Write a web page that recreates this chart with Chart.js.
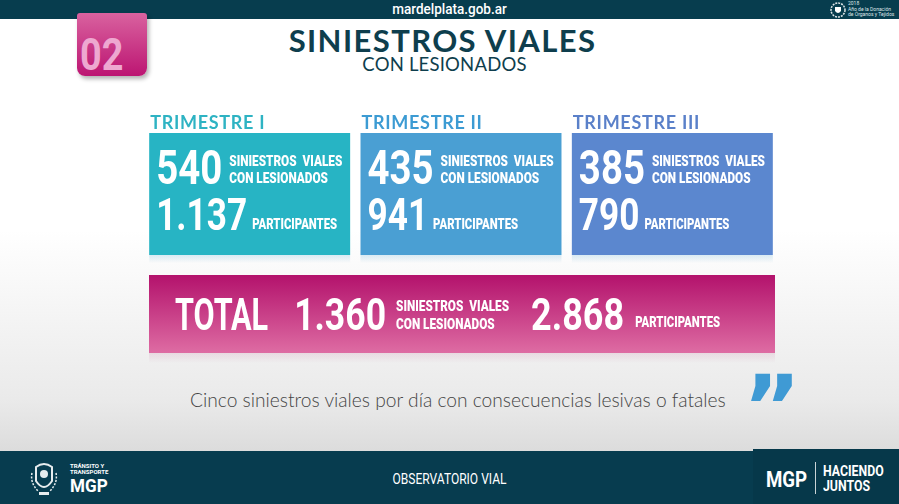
<!DOCTYPE html>
<html><head><meta charset="utf-8">
<script src="https://cdn.jsdelivr.net/npm/chart.js@4.4.1/dist/chart.umd.min.js"></script>
<style>
html,body{margin:0;padding:0;}
body{width:899px;height:504px;overflow:hidden;position:relative;font-family:Roboto,sans-serif;
background:linear-gradient(to bottom,#ffffff 0px,#ffffff 230px,#eaeaea 400px,#dcdcdc 451px);}
#hdr{position:absolute;left:0;top:0;width:899px;height:19px;background:#073d4e;}
#hdr .site{position:absolute;left:0;width:899px;top:0;line-height:19px;text-align:center;color:#fff;font:500 15px Roboto;transform:scaleX(0.9);}
#tab{position:absolute;left:77px;top:13px;width:70px;height:63px;border-radius:3px 3px 8px 8px;
background:linear-gradient(to bottom,#d9629f,#bc1572);box-shadow:2px 3px 4px rgba(0,0,0,0.3);}
#tab span{position:absolute;left:3px;top:15px;font:bold 45px Roboto;color:#eea8d0;transform:scaleX(0.84);transform-origin:left top;}
#t1{position:absolute;left:0;width:885px;top:21px;text-align:center;font:bold 31px Lato;color:#0e3e4d;letter-spacing:1.4px;}
#t2{position:absolute;left:0;width:889px;top:53px;text-align:center;font:400 18.5px Lato;color:#0e3e4d;letter-spacing:0.2px;}
#quote{position:absolute;left:190px;top:388px;font:300 19.2px Lato;color:#444;}
#qm{position:absolute;left:743px;top:358px;font:bold 88px "DejaVu Sans";color:#3f9ad4;line-height:100px;}
#ftr{position:absolute;left:0;top:451px;width:899px;height:53px;background:#073c4f;}
#ftr2{position:absolute;left:753px;top:449px;width:146px;height:55px;background:#06384a;}
.w{color:#fff;position:absolute;white-space:nowrap;}
#c1{position:absolute;left:144px;top:108px;}
#c2{position:absolute;left:140px;top:268px;}
</style></head>
<body>
<div id="hdr"><div class="site">mardelplata.gob.ar</div>
<svg style="position:absolute;left:830px;top:2px" width="16" height="16"><circle cx="8" cy="8" r="7" fill="none" stroke="#dfe6e9" stroke-width="1.5" stroke-dasharray="2 1"/><path d="M5 5 L11 5 L11 9 Q8 13 5 9 Z" fill="#fff"/></svg>
<div class="w" style="left:848px;top:1px;font:5px Roboto;line-height:5.5px;color:#dfe6e9">2018<br>Año de la Donación<br>de Órganos y Tejidos</div>
</div>
<div id="tab"><span>02</span></div>
<div id="t1">SINIESTROS VIALES</div>
<div id="t2">CON LESIONADOS</div>
<canvas id="c1" width="634" height="155"></canvas>
<canvas id="c2" width="650" height="95"></canvas>
<div id="quote">Cinco siniestros viales por día con consecuencias lesivas o fatales</div>
<div id="qm">”</div>
<div id="ftr"></div>
<div id="ftr2"></div>
<svg style="position:absolute;left:30px;top:459px" width="28" height="38"><path d="M6 8 Q14 2 22 8 L22 22 Q14 34 6 22 Z" fill="none" stroke="#e6ecee" stroke-width="2"/><circle cx="14" cy="15" r="4" fill="#e6ecee"/><path d="M2 14 Q0 24 8 32 M26 14 Q28 24 20 32" fill="none" stroke="#e6ecee" stroke-width="1.5" stroke-dasharray="2 1.5"/><rect x="9" y="33" width="10" height="3" fill="#e6ecee"/></svg>
<div class="w" style="left:70px;top:463px;font:bold 6px Roboto;line-height:6px">TRÁNSITO Y<br>TRANSPORTE</div>
<div class="w" style="left:70px;top:474px;font:bold 19px Roboto;transform:scaleX(0.9);transform-origin:left top">MGP</div>
<div class="w" style="left:0;width:899px;text-align:center;top:471px;font:400 14px Roboto;transform:scaleX(0.86)">OBSERVATORIO VIAL</div>
<div class="w" style="left:766px;top:467px;font:bold 22px Roboto;transform:scaleX(0.85);transform-origin:left top">MGP</div>
<div style="position:absolute;left:815px;top:462px;width:1px;height:32px;background:#c9d3d6"></div>
<div class="w" style="left:823px;top:464px;font:bold 15px Roboto;line-height:15px;transform:scaleX(0.82);transform-origin:left top">HACIENDO<br>JUNTOS</div>
<script>
const quarters = ['TRIMESTRE I', 'TRIMESTRE II', 'TRIMESTRE III'];
const siniestros = [540, 435, 385];
const participantes = [1137, 941, 790];
const totalLabel = ['TOTAL'];
const totalSiniestros = [1360];
const totalParticipantes = [2868];

const boxColors = ['#27b4c4', '#4a9fd3', '#5b87cf'];
const labelColors = ['#2eb3c3', '#3c9bd3', '#5a80c9'];

function fmt(n){ return String(n).replace(/\B(?=(\d{3})+(?!\d))/g, '.'); }
function cond(ctx, text, x, y, font, sx){
  ctx.save(); ctx.font = font; ctx.translate(x, y); ctx.scale(sx, 1);
  ctx.fillText(text, 0, 0);
  const w = ctx.measureText(text).width * sx; ctx.restore(); return w;
}
const LBL = '900 15.5px Roboto', LBL_SX = 0.76;
const PART = '900 14.5px Roboto', PART_SX = 0.78;

const boxText = {
  id: 'boxText',
  afterDatasetsDraw(chart){
    const ctx = chart.ctx;
    chart.getDatasetMeta(0).data.forEach((bar, i) => {
      const p = bar.getProps(['x','y','base','width'], true);
      const L = p.x - p.width/2, T = Math.min(p.y, p.base), B = Math.max(p.y, p.base);
      ctx.save();
      const g = ctx.createLinearGradient(0, B, 0, B + 8);
      g.addColorStop(0, 'rgba(150,200,225,0.35)'); g.addColorStop(1, 'rgba(150,200,225,0)');
      ctx.fillStyle = g; ctx.fillRect(L, B, p.width, 8);
      ctx.textBaseline = 'alphabetic';
      ctx.fillStyle = labelColors[i]; ctx.font = 'bold 18px Lato';
      ctx.letterSpacing = '0.7px';
      ctx.fillText(quarters[i], L + 1, T - 4);
      ctx.letterSpacing = '0px';
      ctx.fillStyle = '#fff';
      const w1 = cond(ctx, fmt(siniestros[i]), L + 7, T + 51, 'bold 48px Roboto', 0.8);
      cond(ctx, 'SINIESTROS  VIALES', L + 7 + w1 + 7, T + 33, LBL, LBL_SX);
      cond(ctx, 'CON LESIONADOS', L + 7 + w1 + 7, T + 50, LBL, LBL_SX);
      const w2 = cond(ctx, fmt(participantes[i]), L + 7, T + 97, 'bold 44px Roboto', 0.8);
      cond(ctx, 'PARTICIPANTES', L + 7 + w2 + 5, T + 96, PART, PART_SX);
      ctx.restore();
    });
  }
};

new Chart(document.getElementById('c1'), {
  type: 'bar',
  data: { labels: quarters, datasets: [{ data: quarters.map(() => [0, 1]), backgroundColor: boxColors,
    barPercentage: 0.951, categoryPercentage: 1, borderWidth: 0 }] },
  options: { responsive: false, animation: false, events: [],
    layout: { padding: { top: 25, bottom: 8, left: 0, right: 0 } },
    plugins: { legend: { display: false }, tooltip: { enabled: false } },
    scales: { x: { display: false }, y: { display: false, min: 0, max: 1 } } },
  plugins: [boxText]
});

const totalShadow = {
  id: 'totalShadow',
  beforeDatasetsDraw(chart){
    const ctx = chart.ctx, a = chart.chartArea;
    ctx.save();
    const g = ctx.createLinearGradient(0, a.bottom, 0, a.bottom + 10);
    g.addColorStop(0, 'rgba(200,120,160,0.18)'); g.addColorStop(1, 'rgba(200,120,160,0)');
    ctx.fillStyle = g; ctx.fillRect(a.left, a.bottom, a.right - a.left, 10);
    ctx.shadowColor = 'rgba(0,0,0,0.35)'; ctx.shadowOffsetX = 3; ctx.shadowOffsetY = 3; ctx.shadowBlur = 4;
  },
  afterDatasetsDraw(chart){
    const ctx = chart.ctx; ctx.restore();
    const bar = chart.getDatasetMeta(0).data[0];
    const p = bar.getProps(['x','y','base','height'], true);
    const L = Math.min(p.x, p.base), T = p.y - p.height/2;
    ctx.save(); ctx.fillStyle = '#fff'; ctx.textBaseline = 'alphabetic';
    let x = L + 26;
    x += cond(ctx, totalLabel[0], x, T + 55, 'bold 45px Roboto', 0.68) + 26;
    x += cond(ctx, fmt(totalSiniestros[0]), x, T + 55, 'bold 45px Roboto', 0.79) + 10;
    const wl = Math.max(
      cond(ctx, 'SINIESTROS  VIALES', x, T + 36, LBL, LBL_SX),
      cond(ctx, 'CON LESIONADOS', x, T + 54, LBL, LBL_SX));
    x += wl + 22;
    x += cond(ctx, fmt(totalParticipantes[0]), x, T + 55, 'bold 45px Roboto', 0.8) + 11;
    cond(ctx, 'PARTICIPANTES', x, T + 52, PART, PART_SX);
    ctx.restore();
  }
};

new Chart(document.getElementById('c2'), {
  type: 'bar',
  data: { labels: totalLabel, datasets: [{ data: totalLabel.map(() => [0, 1]),
    backgroundColor(c){ const a = c.chart.chartArea; if (!a) return '#c5307f';
      const g = c.chart.ctx.createLinearGradient(0, a.top, 0, a.bottom);
      g.addColorStop(0, '#b3126c'); g.addColorStop(1, '#de6ca3'); return g; },
    barPercentage: 1, categoryPercentage: 1, borderWidth: 0 }] },
  options: { indexAxis: 'y', responsive: false, animation: false, events: [],
    layout: { padding: { top: 7, bottom: 10, left: 9, right: 15 } },
    plugins: { legend: { display: false }, tooltip: { enabled: false } },
    scales: { x: { display: false, min: 0, max: 1 }, y: { display: false } } },
  plugins: [totalShadow]
});
</script>
</body></html>
